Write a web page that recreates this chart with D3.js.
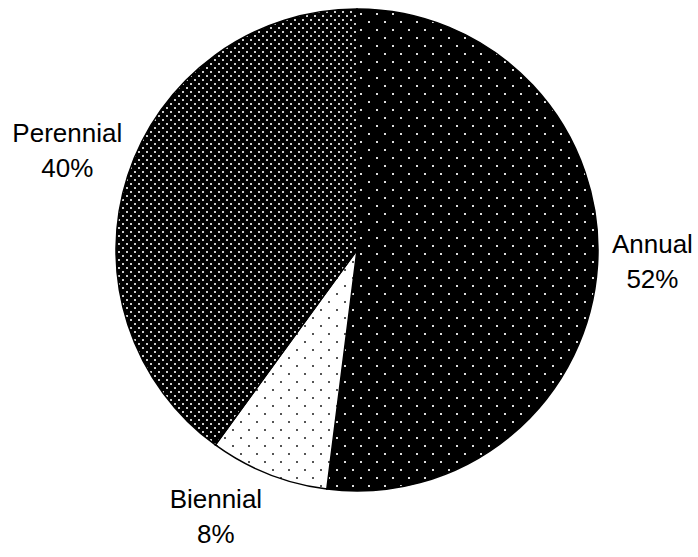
<!DOCTYPE html>
<html>
<head>
<meta charset="utf-8">
<script src="https://cdn.jsdelivr.net/npm/d3@7"></script>
<style>
  html, body { margin: 0; padding: 0; background: #fff; }
  #chart { width: 698px; height: 557px; }
  .label { font-family: "Liberation Sans", Arial, sans-serif; font-size: 26px; fill: #000; }
</style>
</head>
<body>
<div id="chart"></div>
<script>
// Chart data
const categories = ['Annual', 'Biennial', 'Perennial'];
const shares = [52, 8, 40];
const labelLines = [['Annual', '52%'], ['Biennial', '8%'], ['Perennial', '40%']];

function createChart() {
    const width = 698, height = 557;
    const cx = 357, cy = 250, radius = 241;

    const svg = d3.select('#chart')
        .append('svg')
        .attr('width', width)
        .attr('height', height);

    const defs = svg.append('defs');

    // Sparse white dots on black (Annual)
    const pA = defs.append('pattern')
        .attr('id', 'pat-annual')
        .attr('patternUnits', 'userSpaceOnUse')
        .attr('width', 16).attr('height', 16);
    pA.append('rect').attr('width', 16).attr('height', 16).attr('fill', '#000');
    pA.append('rect').attr('x', 3).attr('y', 3).attr('width', 2).attr('height', 2).attr('fill', '#ddd');
    pA.append('rect').attr('x', 11).attr('y', 11).attr('width', 2).attr('height', 2).attr('fill', '#ddd');

    // Sparse grey dots on white (Biennial)
    const pB = defs.append('pattern')
        .attr('id', 'pat-biennial')
        .attr('patternUnits', 'userSpaceOnUse')
        .attr('width', 16).attr('height', 16);
    pB.append('rect').attr('width', 16).attr('height', 16).attr('fill', '#fff');
    pB.append('rect').attr('x', 3).attr('y', 3).attr('width', 2).attr('height', 2).attr('fill', '#555');
    pB.append('rect').attr('x', 11).attr('y', 11).attr('width', 2).attr('height', 2).attr('fill', '#555');

    // Dense white dots on black (Perennial)
    const pP = defs.append('pattern')
        .attr('id', 'pat-perennial')
        .attr('patternUnits', 'userSpaceOnUse')
        .attr('width', 8).attr('height', 8);
    pP.append('rect').attr('width', 8).attr('height', 8).attr('fill', '#000');
    pP.append('rect').attr('x', 1).attr('y', 1).attr('width', 2).attr('height', 2).attr('fill', '#ccc');
    pP.append('rect').attr('x', 5).attr('y', 5).attr('width', 2).attr('height', 2).attr('fill', '#ccc');

    const fills = ['url(#pat-annual)', 'url(#pat-biennial)', 'url(#pat-perennial)'];

    const pie = d3.pie().sort(null).value(d => d);
    const arcs = pie(shares);

    const arc = d3.arc().innerRadius(0).outerRadius(radius);

    const g = svg.append('g')
        .attr('transform', `translate(${cx},${cy})`);

    g.selectAll('path.slice')
        .data(arcs)
        .enter()
        .append('path')
        .attr('class', 'slice')
        .attr('d', arc)
        .attr('fill', (d, i) => fills[i])
        .attr('stroke', '#000')
        .attr('stroke-width', 1.5);

    // Labels placed outside the pie, nudged to sit like the original
    const labelArc = d3.arc().innerRadius(radius + 50).outerRadius(radius + 50);
    const offsets = [[5, -15], [-34, -13], [-13, -18]];
    const lineGap = 35;

    arcs.forEach((d, i) => {
        const [lx, ly] = labelArc.centroid(d);
        const x = lx + offsets[i][0];
        const t = g.append('text')
            .attr('class', 'label')
            .attr('text-anchor', 'middle')
            .attr('x', x)
            .attr('y', ly + offsets[i][1]);
        labelLines[i].forEach((line, k) => {
            t.append('tspan')
                .attr('x', x)
                .attr('dy', k === 0 ? 0 : lineGap)
                .text(line);
        });
    });
}

document.addEventListener('DOMContentLoaded', createChart);
</script>
</body>
</html>
